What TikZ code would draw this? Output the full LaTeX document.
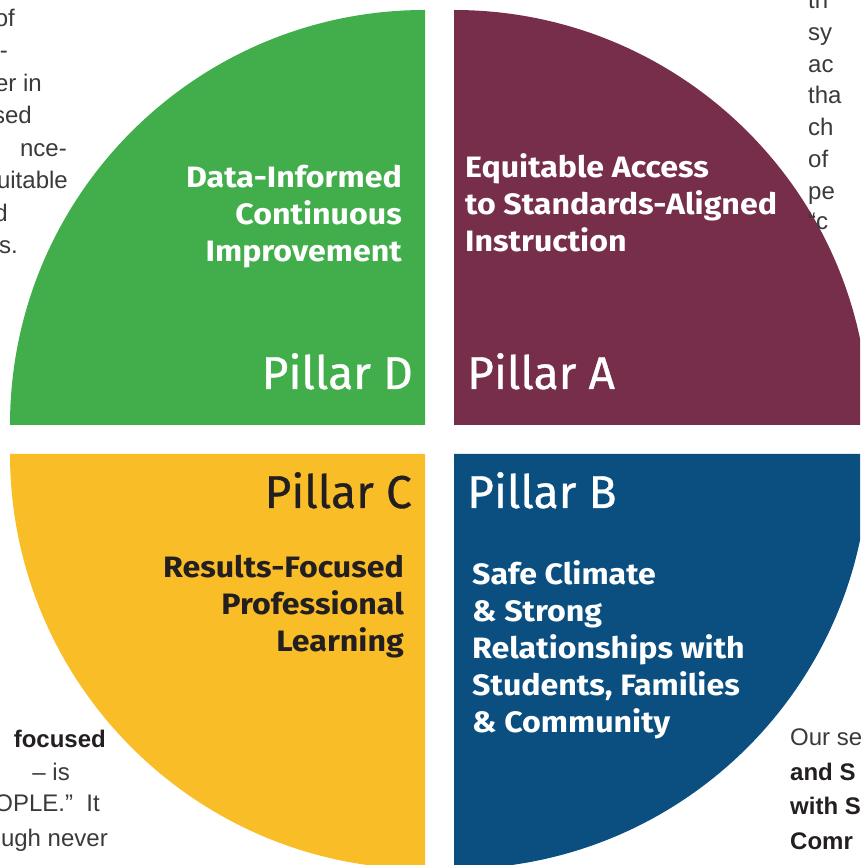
\documentclass[tikz,border=0pt]{standalone}
\usepackage{fontspec}
\setmainfont{Fira Sans}
\newfontfamily\pillarfont[FakeBold=0.7]{Fira Sans}
\newfontfamily\themefont[FakeStretch=1.09]{Fira Sans}
\newfontfamily\asidefont{Liberation Sans}
\definecolor{pillarD}{HTML}{41AE4B}
\definecolor{pillarA}{HTML}{772E4A}
\definecolor{pillarB}{HTML}{0B4F80}
\definecolor{pillarC}{HTML}{F9BD27}
\definecolor{inkdark}{HTML}{231F20}
\definecolor{asidegray}{HTML}{3A3A3A}
\begin{document}
\begin{tikzpicture}[x=1pt, y=1pt,
        pillar/.style={inner sep=0pt, font=\pillarfont\fontsize{46}{50}\selectfont},
        theme/.style={inner sep=0pt, font=\themefont\fontsize{29.5}{37}\selectfont\bfseries},
        aside/.style={inner sep=0pt, text=asidegray, font=\asidefont\fontsize{24}{30}\selectfont},
        asidebold/.style={aside, text=inkdark, font=\asidefont\fontsize{24}{30}\selectfont\bfseries}
    ]
    \useasboundingbox (0,0) rectangle (860,865);
    \clip (0,0) rectangle (860,865);
    % Quarters
    \fill[pillarD] (425,440) -- ++(-415,0) arc[start angle=180, end angle=90, radius=415pt] -- cycle;
    \fill[pillarA] (454,440) -- ++(0,415) arc[start angle=90, end angle=0, radius=415pt] -- cycle;
    \fill[pillarC] (425,411) -- ++(-415,0) arc[start angle=180, end angle=270, radius=415pt] -- cycle;
    \fill[pillarB] (454,411) -- ++(415,0) arc[start angle=0, end angle=-90, radius=415pt] -- cycle;
    % Pillar labels
    \node[pillar, text=white, anchor=base east] (pD) at (413,476) {Pillar D};
    \node[pillar, text=white, anchor=base west] (pA) at (467,476) {Pillar A};
    \node[pillar, text=inkdark, anchor=base east] (pC) at (412,357) {Pillar C};
    \node[pillar, text=white, anchor=base west] (pB) at (467,357) {Pillar B};
    % Themes (base = last line)
    \node[theme, text=white, align=right, anchor=base east] (tD) at (402,603)
        {Data-Informed\\Continuous\\Improvement};
    \node[theme, text=white, align=left, anchor=base west] (tA) at (465,613)
        {Equitable Access\\to Standards-Aligned\\Instruction};
    \node[theme, text=inkdark, align=right, anchor=base east] (tC) at (404,213)
        {Results-Focused\\Professional\\Learning};
    \node[theme, text=white, align=left, anchor=base west] (tB) at (472,132)
        {Safe Climate\\\& Strong\\Relationships with\\Students, Families\\\& Community};
    % Cut-off text around the circle
    \foreach \xr/\yb/\txt [count=\i] in {15/27/of, 8/59/-, 42/92/er in, 32/124/sed,
        67/157/nce-, 68/189/uitable, 8/222/d, 18/254/ns.}
        \node[aside, anchor=base east] (tl\i) at (\xr,865-\yb) {\txt};
    \foreach \yb/\txt [count=\i] in {9/th, 41/sy, 73/ac, 104/tha, 136/ch, 168/of, 200/pe, 230/“c}
        \node[aside, anchor=base west] (tr\i) at (808,865-\yb) {\txt};
    \node[asidebold, anchor=base east] (bl1) at (106,117) {focused};
    \node[aside, anchor=base east] (bl2) at (70,84) {– is};
    \node[aside, anchor=base east] (bl3) at (100,53) {OPLE.”\ \ It};
    \node[aside, anchor=base east] (bl4) at (108,19) {ough never};
    \node[aside, anchor=base west] (br1) at (790,119) {Our se};
    \node[asidebold, anchor=base west] (br2) at (790,84) {and S};
    \node[asidebold, anchor=base west] (br3) at (790,50) {with S};
    \node[asidebold, anchor=base west] (br4) at (790,16) {Comr};
\end{tikzpicture}
\end{document}
